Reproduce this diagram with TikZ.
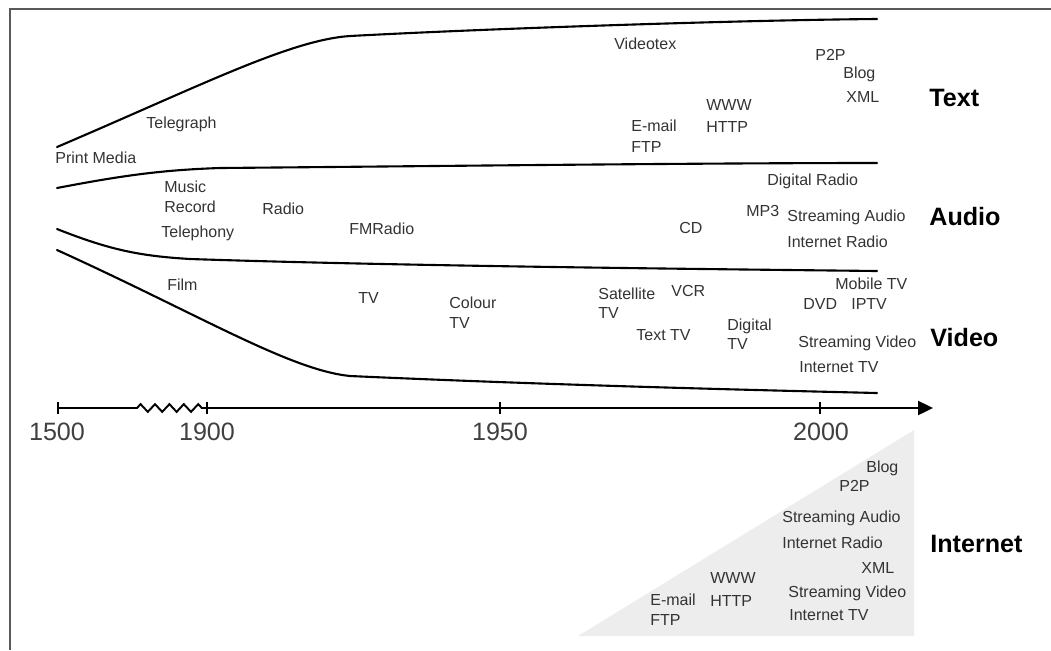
\documentclass[tikz,border=0pt]{standalone}
\usepackage{fontspec}
\setmainfont{Liberation Sans}
\usetikzlibrary{arrows.meta,decorations.pathmorphing}

\tikzset{
  lbl/.style={anchor=base west, inner sep=0pt, text=black!80, font=\fontsize{9.1}{10}\selectfont},
  medium/.style={anchor=base west, inner sep=0pt, font=\fontsize{14.3}{16}\selectfont\bfseries},
  year/.style={anchor=base, inner sep=0pt, text=black!75, font=\fontsize{14.3}{16}\selectfont},
  band/.style={line width=1.2pt, line cap=round},
  tick/.style={line width=0.8pt}
}

\begin{document}
\begin{tikzpicture}[x=0.02cm, y=-0.02cm]
    \useasboundingbox (0,0) rectangle (1051,650);

    % Frame
    \draw[black!65, line width=0.9pt] (1051,9) -- (10,9) -- (10,650);

    % Internet wedge
    \fill[black!7] (578,636) -- (914,430) -- (914,636) -- cycle;

    % Band borders
    \draw[band] (57,147) .. controls (200,86) and (290,40) .. (350,36)
                         .. controls (500,28) and (750,20) .. (877,19);
    \draw[band] (57,188) .. controls (120,176) and (160,170) .. (220,168)
                         .. controls (450,166) and (700,163) .. (877,163);
    \draw[band] (57,229) .. controls (110,250) and (140,256) .. (190,259)
                         .. controls (400,266) and (700,269) .. (877,271);
    \draw[band] (57,250) .. controls (200,315) and (290,370) .. (350,376)
                         .. controls (550,385) and (750,390) .. (877,393);

    % Time axis
    \coordinate (t1500) at (58,408);
    \coordinate (zz) at (137,408);
    \coordinate (t1900) at (207,408);
    \coordinate (t1950) at (500,408);
    \coordinate (t2000) at (820,408);
    \coordinate (tend) at (933,408);
    \draw[line width=1.1pt, -{Triangle[length=8.5pt,width=8pt]}]
        (t1500) -- (zz)
        decorate[decoration={zigzag, segment length=8.2pt, amplitude=2.2pt}] {-- (t1900)}
        -- (tend);
    \foreach \t in {t1500,t1900,t1950,t2000}
        \draw[tick] ([yshift=-0.11cm]\t) -- ([yshift=0.13cm]\t);
    \node[year] (y1500) at (57,440) {1500};
    \node[year] (y1900) at (207,440) {1900};
    \node[year] (y1950) at (500,440) {1950};
    \node[year] (y2000) at (821,440) {2000};

    % Text band
    \node[lbl] (print) at (55,163) {Print Media};
    \node[lbl] (telegraph) at (146,128) {Telegraph};
    \node[lbl] (videotex) at (614,49) {Videotex};
    \node[lbl] (email) at (631,131) {E-mail};
    \node[lbl] (ftp) at (631,152) {FTP};
    \node[lbl] (www) at (706,110) {WWW};
    \node[lbl] (http) at (706,132) {HTTP};
    \node[lbl] (ptp) at (815,60) {P2P};
    \node[lbl] (blog) at (843,78) {Blog};
    \node[lbl] (xml) at (846,102) {XML};
    \node[medium] (text) at (929,106) {Text};

    % Audio band
    \node[lbl] (music) at (164,192) {Music};
    \node[lbl] (record) at (164,212) {Record};
    \node[lbl] (telephony) at (161,237) {Telephony};
    \node[lbl] (radio) at (262,214) {Radio};
    \node[lbl] (fmradio) at (349,234) {FMRadio};
    \node[lbl] (cd) at (679,233) {CD};
    \node[lbl] (mpthree) at (746,216) {MP3};
    \node[lbl] (digradio) at (767,185) {Digital Radio};
    \node[lbl] (streamaudio) at (787,221) {Streaming Audio};
    \node[lbl] (netradio) at (787,247) {Internet Radio};
    \node[medium] (audio) at (929,225) {Audio};

    % Video band
    \node[lbl] (film) at (167,290) {Film};
    \node[lbl] (tv) at (358,303) {TV};
    \node[lbl] (colour) at (449,308) {Colour};
    \node[lbl] (colourtv) at (449,328) {TV};
    \node[lbl] (satellite) at (598,299) {Satellite};
    \node[lbl] (sattv) at (598,318) {TV};
    \node[lbl] (vcr) at (671,296) {VCR};
    \node[lbl] (texttv) at (636,340) {Text TV};
    \node[lbl] (digital) at (727,330) {Digital};
    \node[lbl] (digtv) at (727,349) {TV};
    \node[lbl] (dvd) at (803,309) {DVD};
    \node[lbl] (mobiletv) at (835,289) {Mobile TV};
    \node[lbl] (iptv) at (851,309) {IPTV};
    \node[lbl] (streamvideo) at (798,347) {Streaming Video};
    \node[lbl] (nettv) at (799,372) {Internet TV};
    \node[medium] (video) at (930,346) {Video};

    % Internet wedge labels
    \node[lbl] (iblog) at (866,472) {Blog};
    \node[lbl] (iptp) at (839,491) {P2P};
    \node[lbl] (istreamaudio) at (782,522) {Streaming Audio};
    \node[lbl] (inetradio) at (782,548) {Internet Radio};
    \node[lbl] (ixml) at (861,573) {XML};
    \node[lbl] (istreamvideo) at (788,597) {Streaming Video};
    \node[lbl] (inettv) at (789,620) {Internet TV};
    \node[lbl] (iwww) at (710,583) {WWW};
    \node[lbl] (ihttp) at (710,606) {HTTP};
    \node[lbl] (iemail) at (650,605) {E-mail};
    \node[lbl] (iftp) at (650,625) {FTP};
    \node[medium] (internet) at (930,552) {Internet};

\end{tikzpicture}
\end{document}
